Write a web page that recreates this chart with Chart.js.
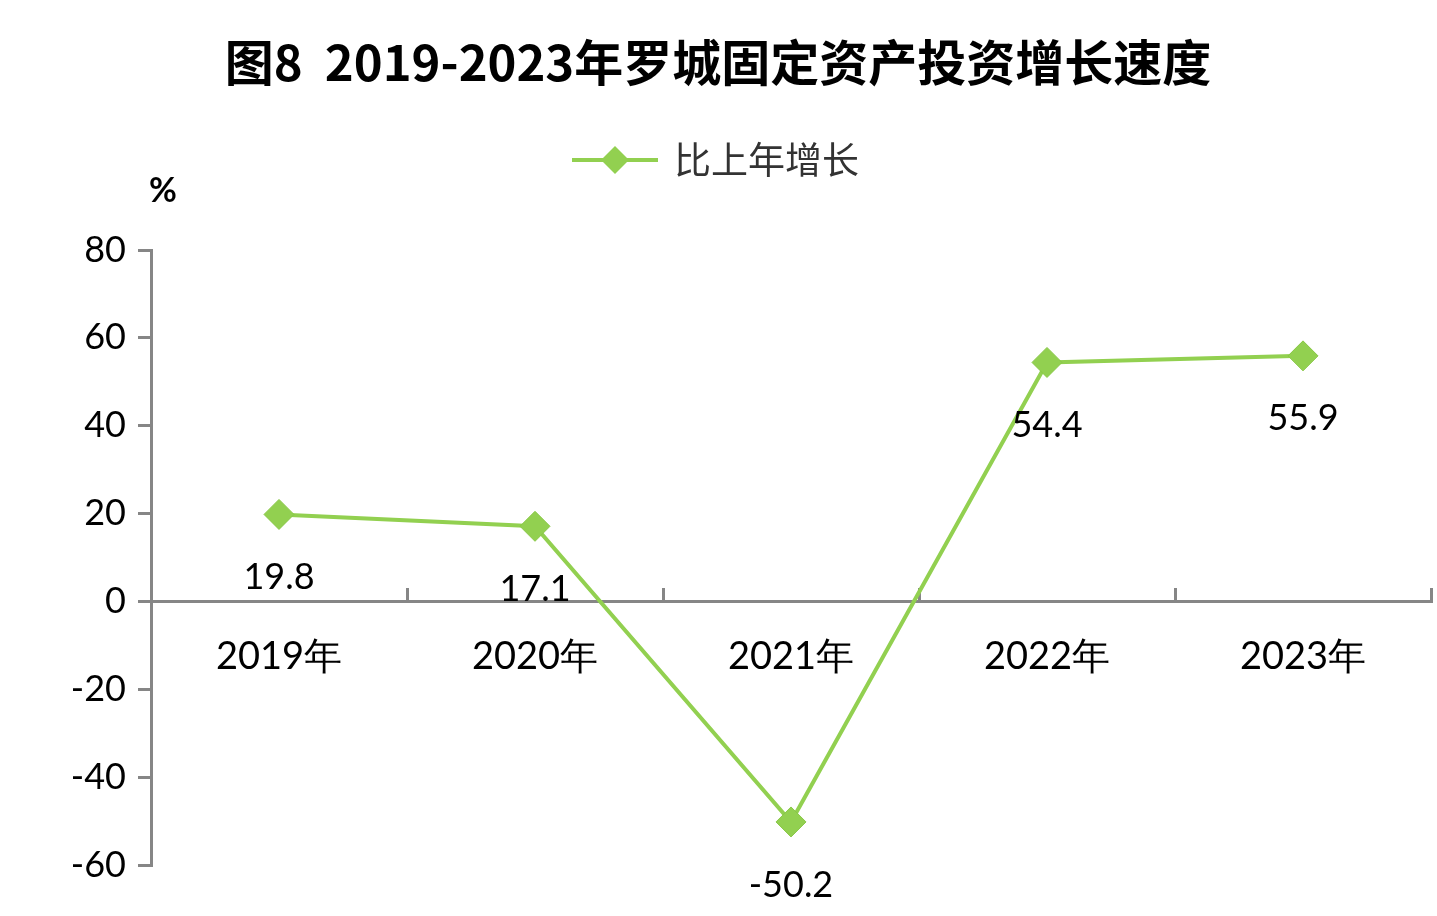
<!DOCTYPE html>
<html>
<head>
<meta charset="utf-8">
<script src="https://cdn.jsdelivr.net/npm/chart.js@4"></script>
<style>
html,body{margin:0;padding:0;background:#fff;}
#wrap{width:1437px;height:916px;position:relative;}
</style>
</head>
<body>
<div id="wrap"><canvas id="c" width="1437" height="916"></canvas></div>
<script>
const categories = ['2019年', '2020年', '2021年', '2022年', '2023年'];
const growth = [19.8, 17.1, -50.2, 54.4, 55.9];
const seriesName = '比上年增长';
const yTicks = [80, 60, 40, 20, 0, -20, -40, -60];
const titleText = '图8  2019-2023年罗城固定资产投资增长速度';
const unitText = '%';

const GREEN = '#92d050';
const AXIS = '#868686';
const NUMFONT = 'Lato, "Noto Sans", sans-serif';
const CJK = '"Noto Sans CJK SC", "Noto Sans", sans-serif';

const decor = {
  id: 'decor',
  afterDraw(chart) {
    const ctx = chart.ctx;
    ctx.save();
    // title
    ctx.fillStyle = '#000';
    ctx.font = 'bold 49px ' + CJK;
    ctx.textAlign = 'center';
    ctx.textBaseline = 'middle';
    ctx.fillText(titleText, 718, 62);
    // legend
    ctx.strokeStyle = GREEN;
    ctx.lineWidth = 4;
    ctx.beginPath(); ctx.moveTo(572, 160); ctx.lineTo(658, 160); ctx.stroke();
    ctx.fillStyle = GREEN;
    ctx.beginPath();
    ctx.moveTo(615, 146); ctx.lineTo(629, 160); ctx.lineTo(615, 174); ctx.lineTo(601, 160);
    ctx.closePath(); ctx.fill();
    ctx.fillStyle = '#333';
    ctx.font = '37px ' + CJK;
    ctx.textAlign = 'left';
    ctx.fillText(seriesName, 674, 160);
    // unit
    ctx.fillStyle = '#000';
    ctx.font = 'bold 34px ' + NUMFONT;
    ctx.textAlign = 'center';
    ctx.fillText(unitText, 163, 191);
    // data labels
    const meta = chart.getDatasetMeta(0);
    ctx.font = '36px ' + NUMFONT;
    ctx.fillStyle = '#000';
    meta.data.forEach((pt, i) => {
      ctx.fillText(String(growth[i]), pt.x, pt.y + 63);
    });
    ctx.restore();
  }
};

new Chart(document.getElementById('c'), {
  type: 'line',
  data: {
    labels: categories,
    datasets: [{
      label: seriesName,
      data: growth,
      borderColor: GREEN,
      backgroundColor: GREEN,
      borderWidth: 4,
      pointStyle: 'rectRot',
      pointRadius: 15,
      pointHoverRadius: 15,
      pointBackgroundColor: GREEN,
      pointBorderColor: '#88c746',
      pointBorderWidth: 1,
      tension: 0,
      clip: false
    }]
  },
  options: {
    responsive: false,
    animation: false,
    devicePixelRatio: 1,
    layout: { autoPadding: false, padding: { left: 51, right: 6, top: 250, bottom: 51 } },
    plugins: {
      legend: { display: false },
      title: { display: false },
      tooltip: { enabled: false }
    },
    scales: {
      x: {
        type: 'category',
        offset: true,
        position: { y: 0 },
        afterFit: s => { s.paddingLeft = 0; s.paddingRight = 0; },
        grid: {
          offset: true,
          drawOnChartArea: false,
          drawTicks: true,
          tickLength: -15,
          color: AXIS,
          lineWidth: 3
        },
        border: { display: true, color: AXIS, width: 3 },
        ticks: {
          color: '#000',
          font: { family: NUMFONT, size: 38 },
          padding: 48,
          maxRotation: 0
        }
      },
      y: {
        min: -60,
        max: 80,
        afterFit: s => { s.width = 100; },
        afterBuildTicks: s => { s.ticks = yTicks.map(v => ({ value: v })); },
        grid: {
          drawOnChartArea: false,
          drawTicks: true,
          tickLength: 13,
          color: AXIS,
          lineWidth: 3
        },
        border: { display: true, color: AXIS, width: 3 },
        ticks: {
          color: '#000',
          font: { family: NUMFONT, size: 36 },
          padding: 12,
          stepSize: 20
        }
      }
    }
  },
  plugins: [decor]
});
</script>
</body>
</html>
